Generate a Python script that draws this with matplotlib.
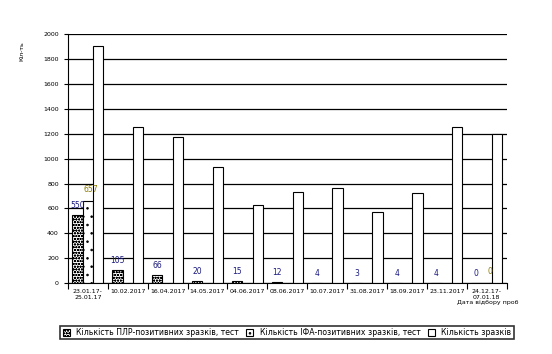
import matplotlib
matplotlib.use('Agg')
import matplotlib.pyplot as plt
import numpy as np

# Дані з діаграми
dates = ['23.01.17-\n25.01.17', '10.02.2017', '16.04.2017', '14.05.2017', '04.06.2017',
         '08.06.2017', '10.07.2017', '31.08.2017', '18.09.2017', '23.11.2017',
         '24.12.17-\n07.01.18']
pcr_pos = [550, 105, 66, 20, 15, 12, 4, 3, 4, 4, 0]
ifa_pos = [657, None, None, None, None, None, None, None, None, None, 0]
total = [1900, 1250, 1170, 930, 630, 735, 765, 575, 725, 1250, 1200]
legend_labels = ['Кількість ПЛР-позитивних зразків, тест',
                 'Кількість ІФА-позитивних зразків, тест',
                 'Кількість зразків']

plt.rc('font', family='DejaVu Sans')
plt.rcParams['hatch.linewidth'] = 0.6
fig = plt.figure(figsize=(5.52, 3.54), dpi=100)
ax = fig.add_axes([0.123, 0.2, 0.795, 0.704])

x = np.arange(len(dates))
w = 0.26

ax.set_axisbelow(True)
ax.grid(True, axis='y', color='black', linewidth=0.9)

b1 = ax.bar(x - w, pcr_pos, w, color='white', edgecolor='black', hatch='oooooo',
            linewidth=0.8, label=legend_labels[0])
ifa_x = [xi for xi, v in zip(x, ifa_pos) if v is not None]
ifa_v = [v for v in ifa_pos if v is not None]
b2 = ax.bar(ifa_x, ifa_v, w, color='white', edgecolor='black', hatch='..',
            linewidth=0.8, label=legend_labels[1])
b3 = ax.bar(x + w, total, w, color='white', edgecolor='black', linewidth=0.8,
            label=legend_labels[2])

for xi, v in zip(x, pcr_pos):
    ax.text(xi - w, v + 40, str(v), ha='center', va='bottom', fontsize=5.5, color='#1a1a80')
for xi, v in zip(ifa_x, ifa_v):
    ax.text(xi + 0.08, v + 60, str(v), ha='center', va='bottom', fontsize=5.5, color='#8a7a00')

ax.set_xlim(-0.5, len(dates) - 0.5)
ax.set_ylim(0, 2000)
ax.set_yticks(np.arange(0, 2001, 200))
ax.set_xticks(np.arange(-0.5, len(dates), 1), labels=[''] * (len(dates) + 1))
ax.set_xticks(x, labels=dates, minor=True)
ax.tick_params(axis='x', which='minor', length=0, labelsize=4.5, pad=4)
ax.tick_params(axis='x', which='major', length=4)
ax.tick_params(axis='y', labelsize=4.5, length=3)
ax.spines['right'].set_visible(False)
ax.spines['top'].set_visible(False)

ax.set_ylabel('Кіл-ть', fontsize=4.5)
ax.yaxis.set_label_coords(-0.1, 0.93)
fig.text(0.94, 0.14, 'Дата відбору проб', fontsize=4.5, ha='right')

leg = fig.legend(handles=[b1, b2, b3], loc='lower center', bbox_to_anchor=(0.52, 0.03),
                 ncol=3, fontsize=5.6, frameon=True, fancybox=False, edgecolor='black',
                 handlelength=0.9, handleheight=0.9, columnspacing=1.0, borderpad=0.3)
leg.get_frame().set_linewidth(1.2)

plt.savefig('out.png', dpi=100)
